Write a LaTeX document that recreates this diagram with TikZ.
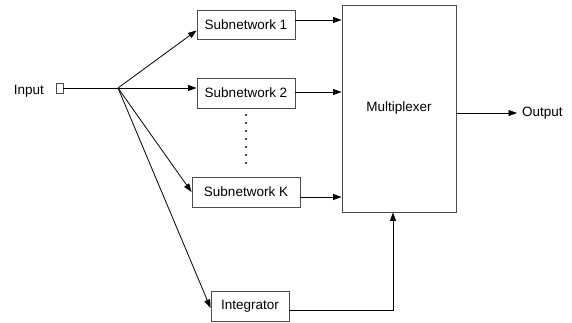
\documentclass[tikz,border=0pt]{standalone}
\usepackage{fontspec}
\setmainfont{Liberation Sans}
\usetikzlibrary{arrows.meta,calc}
\begin{document}
\begin{tikzpicture}[x=1pt,y=-1pt,
  box/.style={draw=black!70,line width=0.9pt,fill=white,inner sep=0pt,font=\fontsize{13.5}{16}\selectfont},
  lbl/.style={inner sep=0pt,font=\fontsize{13.5}{16}\selectfont},
  conn/.style={line width=0.8pt,-{Triangle[length=8.5pt,width=6pt]}},
  plain/.style={line width=0.8pt}]
\useasboundingbox (0,0) rectangle (572,322);
\node[box,minimum width=98pt,minimum height=29pt] (sub1) at (246,24.5) {Subnetwork 1};
\node[box,minimum width=98pt,minimum height=30pt] (sub2) at (246,93) {Subnetwork 2};
\node[box,minimum width=108pt,minimum height=30pt] (subK) at (246,192) {Subnetwork K};
\node[box,minimum width=78pt,minimum height=30pt] (integ) at (250,306) {Integrator};
\node[box,minimum width=114pt,minimum height=207pt] (mux) at (399,108.5) {};
\node[lbl] (muxl) at (399,108) {Multiplexer};
\node[draw=black!70,line width=0.8pt,minimum width=7pt,minimum height=10pt,inner sep=0pt] (in) at (59.5,88) {};
\node[lbl,anchor=east] (inl) at (44,91) {Input};
\node[lbl,anchor=west] (out) at (522,113) {Output};
\coordinate (fan) at (118,88);
\draw[plain] (in.east) -- (fan);
\draw[conn] (fan) -- (sub2.west |- fan);
\draw[conn] (fan) -- ($(sub1.south west)!0.3!(sub1.north west)$);
\draw[conn] (fan) -- (subK.west);
\draw[conn] (fan) -- ([yshift=-2pt]integ.west);
\draw[conn] ([yshift=4.5pt]sub1.east) -- ([yshift=4.5pt]sub1.east -| mux.west);
\draw[conn] ([yshift=1pt]sub2.east) -- ([yshift=1pt]sub2.east -| mux.west);
\draw[conn] ([yshift=-5pt]subK.east) -- ([yshift=-5pt]subK.east -| mux.west);
\draw[conn] ([yshift=-4pt]integ.east) -| ([xshift=-6pt]mux.south);
\draw[conn] ([yshift=-4.5pt]mux.east) -- ([yshift=-4.5pt,xshift=-5pt]mux.east -| out.west);
\foreach \i in {0,...,6} \fill (246,115+8*\i) circle (1.1pt);
\end{tikzpicture}
\end{document}
